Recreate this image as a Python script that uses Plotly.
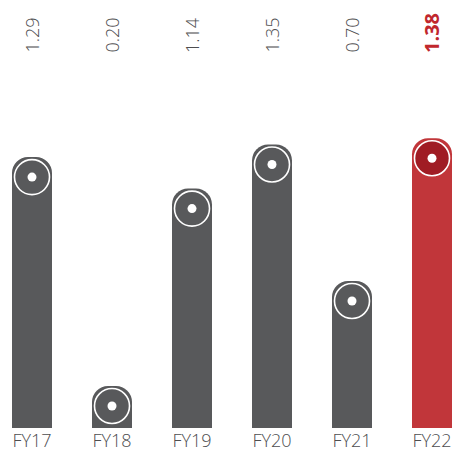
import plotly.graph_objects as go

categories = ["FY17", "FY18", "FY19", "FY20", "FY21", "FY22"]
values = [1.29, 0.20, 1.14, 1.35, 0.70, 1.38]
value_labels = ["1.29", "0.20", "1.14", "1.35", "0.70", "1.38"]

GREY = "#58595b"
RED = "#c1363a"
RED_DARK = "#a01c24"
RED_TEXT = "#c1272d"
TEXT = "#4d4d4f"

W, H = 457, 460
BOTTOM = 32          # bottom margin (px)
PX_PER_UNIT = 210    # vertical scale
Y_MAX = (H - BOTTOM) / PX_PER_UNIT
KNOB_OFFSET = 20 / PX_PER_UNIT   # knob sits 20px below the bar top

last = len(categories) - 1
bar_colors = [RED if i == last else GREY for i in range(len(categories))]
knob_colors = [RED_DARK if i == last else GREY for i in range(len(categories))]
knob_y = [v - KNOB_OFFSET for v in values]

fig = go.Figure()
fig.add_trace(go.Bar(
    x=categories, y=values,
    marker=dict(color=bar_colors, cornerradius=16, line=dict(width=0)),
    width=0.5, hoverinfo="skip",
))
# knob: filled circle with a thin white ring
fig.add_trace(go.Scatter(
    x=categories, y=knob_y, mode="markers",
    marker=dict(size=35, color=knob_colors, line=dict(color="white", width=1.6)),
    hoverinfo="skip",
))
# white dot in the centre of each knob
fig.add_trace(go.Scatter(
    x=categories, y=knob_y, mode="markers",
    marker=dict(size=9, color="white", line=dict(width=0)),
    hoverinfo="skip",
))

for i, (c, t) in enumerate(zip(categories, value_labels)):
    hi = i == last
    fig.add_annotation(
        x=c, xref="x", y=(H - BOTTOM - 55) / (H - BOTTOM), yref="paper",
        text=f"<b>{t}</b>" if hi else t, textangle=-90, showarrow=False,
        xanchor="center", yanchor="bottom",
        font=dict(family="Open Sans", size=20 if hi else 18,
                  color=RED_TEXT if hi else TEXT,
                  weight=700 if hi else 300),
    )

fig.update_layout(
    width=W, height=H,
    margin=dict(l=0, r=0, t=0, b=BOTTOM),
    plot_bgcolor="white", paper_bgcolor="white",
    showlegend=False, bargap=0.5,
    font=dict(family="Open Sans", color=TEXT),
)
fig.update_xaxes(
    range=[-0.4, 5.3125], showgrid=False, zeroline=False, showline=False,
    ticks="", tickfont=dict(size=18, family="Open Sans", color=TEXT, weight=300),
)
fig.update_yaxes(range=[0, Y_MAX], visible=False, showgrid=False, zeroline=False)

fig.write_html("out.html")
